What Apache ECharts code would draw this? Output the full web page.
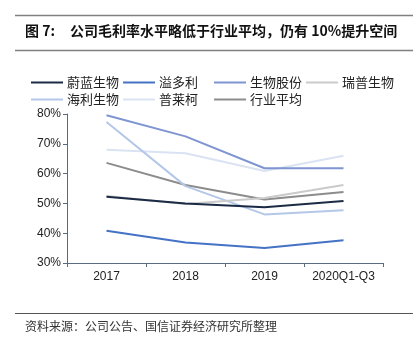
<!DOCTYPE html>
<html><head><meta charset="utf-8">
<script src="https://cdn.jsdelivr.net/npm/echarts@6/dist/echarts.min.js"></script>
<style>html,body{margin:0;padding:0;background:#fff}#c{width:414px;height:350px}</style>
</head><body><div id="c"></div>
<script>
var categories = ['2017', '2018', '2019', '2020Q1-Q3'];
var seriesNames = ['蔚蓝生物', '溢多利', '生物股份', '瑞普生物', '海利生物', '普莱柯', '行业平均'];
var weilan = [52.2, 50.0, 48.7, 50.8];
var yiduoli = [40.8, 36.9, 35.0, 37.6];
var shengwu = [79.6, 72.5, 61.8, 61.8];
var ruipu = [52.5, 49.8, 51.8, 56.2];
var haili = [77.3, 55.8, 46.3, 47.7];
var pulaike = [68.0, 66.8, 60.9, 66.0];
var hangye = [63.6, 56.2, 51.3, 53.8];
var yTicks = [30, 40, 50, 60, 70, 80];
var colors = ['#1c2b45', '#4472c4', '#7f95d1', '#cacaca', '#b4c7e7', '#dae3f3', '#8c8c8c'];
var values = [weilan, yiduoli, shengwu, ruipu, haili, pulaike, hangye];

var legendPos = [[31, 76], [123, 76], [214, 76], [306, 76], [31, 93], [123, 93], [214, 93]];
var chart = echarts.init(document.getElementById('c'));
var legends = seriesNames.map(function (n, i) {
  return {
    data: [n], left: legendPos[i][0], top: legendPos[i][1], padding: 0,
    itemWidth: 32, itemHeight: 2, itemGap: 0,
    icon: 'rect',
    textStyle: { fontFamily: 'Noto Sans CJK SC', fontSize: 13, color: '#222', padding: [0, 0, 0, -1] }
  };
});
var series = seriesNames.map(function (n, i) {
  return {
    name: n, type: 'line', data: values[i], symbol: 'none',
    lineStyle: { width: 2, color: colors[i] }, itemStyle: { color: colors[i] },
    z: 10 - i
  };
});
chart.setOption({
  animation: false,
  legend: legends,
  grid: { left: 67, right: 31, top: 114, bottom: 87 },
  xAxis: {
    type: 'category', data: categories, boundaryGap: true,
    axisLine: { lineStyle: { color: '#5a6a80', width: 1 } },
    axisTick: { show: true, length: 4, lineStyle: { color: '#5a6a80' } },
    axisLabel: { interval: 0, fontFamily: 'Liberation Sans', fontSize: 12, color: '#222', margin: 8 }
  },
  yAxis: {
    type: 'value', min: yTicks[0], max: yTicks[yTicks.length - 1], interval: 10,
    splitLine: { show: false },
    axisLine: { show: true, lineStyle: { color: '#5a6a80', width: 1 } },
    axisTick: { show: true, length: 4, lineStyle: { color: '#5a6a80' } },
    axisLabel: { formatter: '{value}%', fontFamily: 'Liberation Sans', fontSize: 12, color: '#222', margin: 6 }
  },
  graphic: [
    { type: 'line', shape: { x1: 15, y1: 15.5, x2: 413, y2: 15.5 }, style: { stroke: '#808080', lineWidth: 1.5 } },
    { type: 'line', shape: { x1: 15, y1: 50.5, x2: 413, y2: 50.5 }, style: { stroke: '#808080', lineWidth: 1.5 } },
    { type: 'text', left: 25, top: 24, style: { text: '图 7:', font: 'bold 14px "Noto Sans CJK SC"', fill: '#111' } },
    { type: 'text', left: 70, top: 24, style: { text: '公司毛利率水平略低于行业平均，仍有 10%提升空间', font: 'bold 14px "Noto Sans CJK SC"', fill: '#111' } },
    { type: 'line', shape: { x1: 15, y1: 313.5, x2: 413, y2: 313.5 }, style: { stroke: '#555', lineWidth: 1 } },
    { type: 'text', left: 25, top: 320, style: { text: '资料来源：公司公告、国信证券经济研究所整理', font: '12px "Noto Sans CJK SC"', fill: '#333' } }
  ],
  series: series
});
</script></body></html>
